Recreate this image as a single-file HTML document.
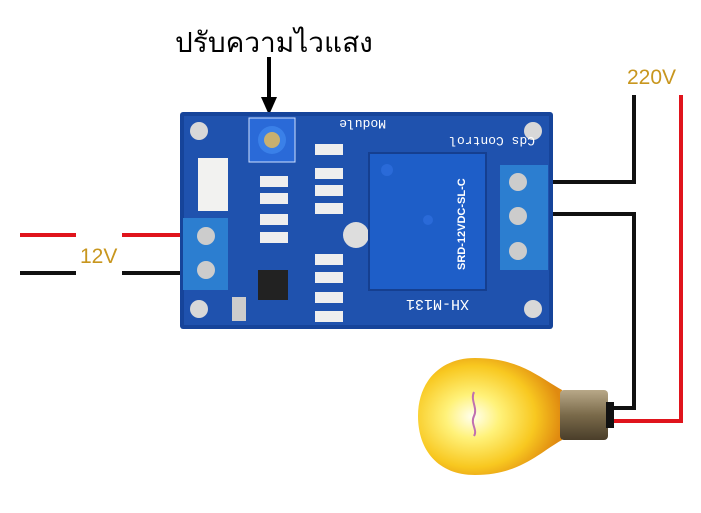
<!DOCTYPE html>
<html><head><meta charset="utf-8"><style>
html,body{margin:0;padding:0;background:#fff;width:701px;height:513px;overflow:hidden}
svg{display:block}
</style></head><body>
<svg width="701" height="513" viewBox="0 0 701 513" xmlns="http://www.w3.org/2000/svg">
<defs>
<radialGradient id="bulb" cx="0.38" cy="0.5" r="0.62">
<stop offset="0" stop-color="#fffff0"/><stop offset="0.3" stop-color="#fff27a"/><stop offset="0.7" stop-color="#f8c820"/><stop offset="1" stop-color="#e08a10"/>
</radialGradient>
<linearGradient id="base" x1="0" y1="0" x2="0" y2="1">
<stop offset="0" stop-color="#b8a888"/><stop offset="0.5" stop-color="#7a6a4a"/><stop offset="1" stop-color="#4a3e2a"/>
</linearGradient>
</defs>
<text x="175" y="52" font-family="Liberation Sans, DejaVu Sans, sans-serif" font-size="28" fill="#000">ปรับความไวแสง</text>
<rect x="267" y="57" width="4" height="42" fill="#000"/>
<polygon points="261,97 277,97 269,115" fill="#000"/>
<rect x="20" y="233" width="56" height="4" fill="#e0141c"/>
<rect x="122" y="233" width="62" height="4" fill="#e0141c"/>
<rect x="20" y="271" width="56" height="4" fill="#111"/>
<rect x="122" y="271" width="62" height="4" fill="#111"/>
<text x="80" y="263" font-family="Liberation Sans, sans-serif" font-size="21" fill="#c8961e">12V</text>
<text x="627" y="84" font-family="Liberation Sans, sans-serif" font-size="21" fill="#c8961e">220V</text>
<polyline points="548,182 634,182 634,95" fill="none" stroke="#111" stroke-width="4"/>
<polyline points="548,214 634,214 634,408 610,408" fill="none" stroke="#111" stroke-width="4"/>
<polyline points="681,95 681,421 612,421" fill="none" stroke="#e0141c" stroke-width="4"/>
<rect x="180" y="112" width="373" height="217" rx="3" fill="#16449a"/>
<rect x="184" y="116" width="365" height="209" fill="#1f52ae"/>
<circle cx="199" cy="131" r="9" fill="#d8d8d8"/><circle cx="533" cy="131" r="9" fill="#d8d8d8"/>
<circle cx="199" cy="309" r="9" fill="#d8d8d8"/><circle cx="533" cy="309" r="9" fill="#d8d8d8"/>
<text x="395" y="143" font-family="Liberation Mono, monospace" font-size="13" fill="#fff" transform="rotate(180 465 140)">Cds Control</text>
<text x="350" y="126" font-family="Liberation Mono, monospace" font-size="13" fill="#fff" transform="rotate(180 368 123)">Module</text>
<text x="411" y="308" font-family="Liberation Mono, monospace" font-size="15" fill="#fff" transform="rotate(180 440 304)">XH-M131</text>
<rect x="249" y="118" width="46" height="44" fill="#2a6ad8" stroke="#cfe0ff" stroke-width="1"/>
<circle cx="272" cy="140" r="14" fill="#3a80e8"/><circle cx="272" cy="140" r="8" fill="#c8b070"/>
<rect x="198" y="158" width="30" height="53" fill="#f2f2f0"/>
<rect x="183" y="218" width="45" height="72" fill="#2c7ed0"/>
<circle cx="206" cy="236" r="9" fill="#ccc"/><circle cx="206" cy="270" r="9" fill="#ccc"/>
<g fill="#eee">
<rect x="260" y="176" width="28" height="11"/><rect x="260" y="193" width="28" height="11"/>
<rect x="260" y="214" width="28" height="11"/><rect x="260" y="232" width="28" height="11"/>
<rect x="315" y="144" width="28" height="11"/><rect x="315" y="168" width="28" height="11"/>
<rect x="315" y="185" width="28" height="11"/><rect x="315" y="203" width="28" height="11"/>
<rect x="315" y="254" width="28" height="11"/><rect x="315" y="272" width="28" height="11"/>
<rect x="315" y="292" width="28" height="11"/><rect x="315" y="311" width="28" height="11"/>
</g>
<rect x="258" y="270" width="30" height="30" fill="#222"/>
<circle cx="356" cy="235" r="13" fill="#ddd"/>
<rect x="232" y="297" width="14" height="24" fill="#ccc"/>
<rect x="369" y="153" width="117" height="137" fill="#1e5ec8" stroke="#153f90" stroke-width="2"/>
<circle cx="387" cy="170" r="6" fill="#2a6ad8"/><circle cx="428" cy="220" r="5" fill="#2a6ad8"/>
<text x="410" y="285" font-family="Liberation Sans, sans-serif" font-size="11" fill="#fff" font-weight="bold" transform="rotate(-90 430 250)">SRD-12VDC-SL-C</text>
<rect x="500" y="165" width="48" height="105" fill="#2c7ed0"/>
<circle cx="518" cy="182" r="9" fill="#ccc"/><circle cx="518" cy="216" r="9" fill="#ccc"/><circle cx="518" cy="251" r="9" fill="#ccc"/>
<path d="M475,358 C520,358 540,378 562,390 L562,440 C540,452 520,475 475,475 C438,475 418,450 418,416 C418,382 440,358 475,358 Z" fill="url(#bulb)"/>
<rect x="560" y="390" width="48" height="50" rx="4" fill="url(#base)"/>
<rect x="606" y="402" width="8" height="26" fill="#111"/>
<path d="M474,392 c-4,8 4,16 0,24 c-4,8 4,14 0,20" fill="none" stroke="#c070b0" stroke-width="2"/>
</svg>
</body></html>
